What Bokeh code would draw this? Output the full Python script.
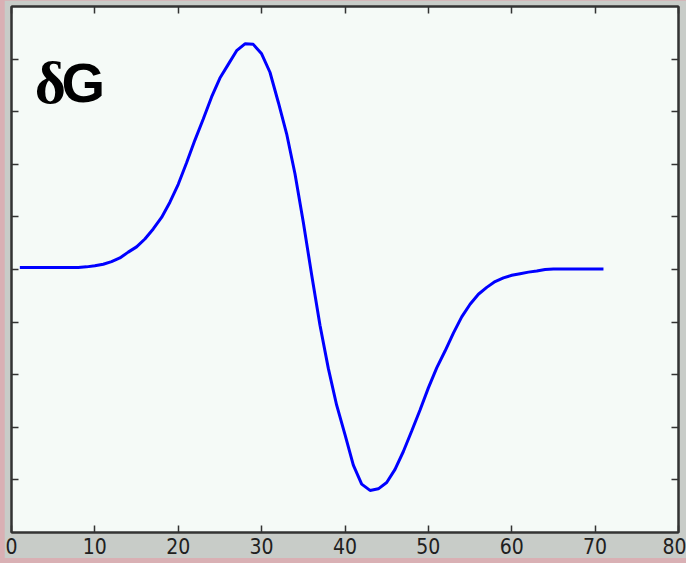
from bokeh.plotting import figure
from bokeh.models import Range1d, FixedTicker, LinearAxis, Label
from bokeh.layouts import column
from bokeh.embed import file_html
from bokeh.resources import INLINE

# ---- data ----
x_vals = list(range(1, 72))
dG = [0.04, 0.04, 0.04, 0.04, 0.04, 0.04, 0.04, 0.04, 0.05, 0.07,
      0.10, 0.15, 0.22, 0.33, 0.43, 0.58, 0.77, 0.99, 1.28, 1.62,
      2.03, 2.46, 2.86, 3.28, 3.64, 3.90, 4.16, 4.29, 4.28, 4.10,
      3.75, 3.18, 2.58, 1.82, 0.90, -0.10, -1.06, -1.88, -2.58, -3.14,
      -3.72, -4.08, -4.20, -4.17, -4.05, -3.80, -3.46, -3.07, -2.67, -2.25,
      -1.87, -1.55, -1.21, -0.90, -0.66, -0.47, -0.34, -0.23, -0.16, -0.11,
      -0.08, -0.05, -0.03, 0.00, 0.01, 0.01, 0.01, 0.01, 0.01, 0.01,
      0.01]
x_ticks = [0, 10, 20, 30, 40, 50, 60, 70, 80]
y_ticks = [-4, -3, -2, -1, 0, 1, 2, 3, 4]
title_symbol = "δ"
title_letter = "G"

GREY = "#c8ccc8"
PINK = "#d9b0b4"
PLOT_BG = "#f5faf7"
AX = "#333333"
TICK_FONT = "'Liberation Sans Narrow', 'DejaVu Sans Condensed', 'Liberation Sans', sans-serif"

p = figure(frame_width=667, frame_height=526, output_backend="svg", toolbar_location=None,
           x_range=Range1d(0, 80), y_range=Range1d(-5, 5),
           x_axis_location=None, y_axis_location=None,
           min_border_left=7, min_border_right=8, min_border_top=6, min_border_bottom=26,
           background_fill_color=PLOT_BG, border_fill_color=GREY,
           outline_line_color=AX, outline_line_width=2, margin=(0, 0, 5, 4))
p.xgrid.visible = False
p.ygrid.visible = False

def make_axis(ticks, labels):
    ax = LinearAxis(ticker=FixedTicker(ticks=ticks))
    ax.axis_line_color = AX
    ax.axis_line_width = 2
    ax.major_tick_line_color = AX
    ax.major_tick_line_width = 1.5
    ax.major_tick_in = 7
    ax.major_tick_out = 0
    ax.minor_tick_line_color = None
    if labels:
        ax.major_label_text_font = TICK_FONT
        ax.major_label_text_font_size = "21px"
        ax.major_label_text_color = "#202020"
        ax.major_label_standoff = 5
    else:
        ax.major_label_overrides = {t: "" for t in ticks}
        ax.major_label_standoff = 0
        ax.major_label_text_font_size = "1px"
    return ax

p.add_layout(make_axis(x_ticks, True), "below")
p.add_layout(make_axis(x_ticks, False), "above")
p.add_layout(make_axis(y_ticks, False), "left")
p.add_layout(make_axis(y_ticks, False), "right")

p.line(x_vals, dG, line_color="#0000ff", line_width=3)

p.add_layout(Label(x=2.8, y=3.55, text=title_symbol, text_font="Liberation Serif",
                   text_font_style="bold", text_font_size="60px", text_color="black",
                   text_baseline="alphabetic"))
p.add_layout(Label(x=6.0, y=3.55, text=title_letter, text_font="Liberation Sans",
                   text_font_style="bold", text_font_size="56px", text_color="black",
                   text_baseline="alphabetic"))

layout = column(p, styles={"background-color": PINK})

open("out.html", "w").write(file_html(layout, INLINE))
